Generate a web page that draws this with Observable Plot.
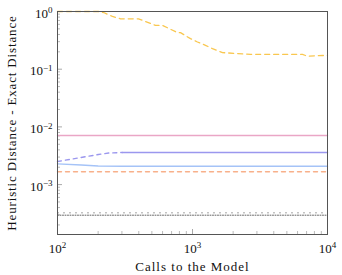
<!DOCTYPE html>
<html><head><meta charset="utf-8">
<script src="https://cdn.jsdelivr.net/npm/d3@7"></script>
<script src="https://cdn.jsdelivr.net/npm/@observablehq/plot@0.6"></script>
<style>
body{margin:0;background:#fff}
svg text{font-family:"Liberation Serif","DejaVu Serif",serif !important}
</style>
</head><body><div id="chart"></div>
<script>
// Data
const goldX = [100, 201, 220, 255, 293, 398, 532, 600, 774, 815, 966, 1089, 1248, 1406, 1668, 2692, 6531, 7113, 10000];
const goldY = [1, 1, 0.96, 0.82, 0.748, 0.748, 0.574, 0.574, 0.43, 0.43, 0.338, 0.296, 0.259, 0.227, 0.194, 0.181, 0.180, 0.168, 0.174];
const pinkX = [100, 10000];
const pinkY = [0.0071, 0.0071];
const purpleDashX = [100, 153, 201, 239, 303];
const purpleDashY = [0.00251, 0.00298, 0.00332, 0.00352, 0.0036];
const purpleX = [303, 10000];
const purpleY = [0.0036, 0.0036];
const blueX = [100, 150, 200, 300, 10000];
const blueY = [0.00229, 0.00218, 0.0021, 0.00208, 0.00208];
const salmonX = [100, 10000];
const salmonY = [0.00167, 0.00167];
const dotDarkX = [100, 10000];
const dotDarkY = [0.000295, 0.000295];
const dotLightX = [100, 10000];
const dotLightY = [0.000324, 0.000324];

const xMajor = [100, 1000, 10000];
const xMinor = [200, 300, 400, 500, 600, 700, 800, 900, 2000, 3000, 4000, 5000, 6000, 7000, 8000, 9000];
const yMajor = [1e-3, 1e-2, 1e-1, 1];
const yMinor = [2e-4,3e-4,4e-4,5e-4,6e-4,7e-4,8e-4,9e-4,
                2e-3,3e-3,4e-3,5e-3,6e-3,7e-3,8e-3,9e-3,
                2e-2,3e-2,4e-2,5e-2,6e-2,7e-2,8e-2,9e-2,
                0.2,0.3,0.4,0.5,0.6,0.7,0.8,0.9];
const xLabel = "Calls to the Model";
const yLabel = "Heuristic Distance - Exact Distance";

const rows = (xs, ys) => xs.map((x, i) => ({x, y: ys[i]}));
const fmt = d => "10^" + Math.round(Math.log10(d));

const W = 342, H = 275, ML = 57, MR = 15, MT = 11, MB = 41;
const FW = W - ML - MR, FH = H - MT - MB;
const FONT = "Liberation Serif";

const chart = Plot.plot({
  width: W, height: H,
  marginLeft: ML, marginRight: MR, marginTop: MT, marginBottom: MB,
  x: {type: "log", domain: [100, 10000]},
  y: {type: "log", domain: [1.365e-4, 1]},
  style: {fontFamily: FONT, fontSize: "12px", background: "#fff", color: "#111"},
  marks: [
    // ticks (inward)
    Plot.ruleY(yMinor, {y: d => d, stroke: "#bbb", strokeWidth: 1, insetRight: FW - 3}),
    Plot.ruleY(yMajor, {y: d => d, stroke: "#aaa", strokeWidth: 1, insetRight: FW - 5}),
    Plot.ruleX(xMinor, {x: d => d, stroke: "#bbb", strokeWidth: 1, insetTop: FH - 3}),
    Plot.ruleX(xMajor, {x: d => d, stroke: "#aaa", strokeWidth: 1, insetTop: FH - 5}),
    // series
    Plot.line(rows(dotLightX, dotLightY), {x: "x", y: "y", stroke: "#9a9a9a", strokeWidth: 1, strokeDasharray: "1,5"}),
    Plot.line(rows(dotDarkX, dotDarkY), {x: "x", y: "y", stroke: "#666", strokeWidth: 1, strokeDasharray: "1,1.5"}),
    Plot.line(rows(salmonX, salmonY), {x: "x", y: "y", stroke: "#f8b08a", strokeWidth: 1.4, strokeDasharray: "4,4"}),
    Plot.line(rows(blueX, blueY), {x: "x", y: "y", stroke: "#a5c3f7", strokeWidth: 1.4}),
    Plot.line(rows(purpleDashX, purpleDashY), {x: "x", y: "y", stroke: "#9b97ee", strokeWidth: 1.4, strokeDasharray: "4,4"}),
    Plot.line(rows(purpleX, purpleY), {x: "x", y: "y", stroke: "#9b97ee", strokeWidth: 1.4}),
    Plot.line(rows(pinkX, pinkY), {x: "x", y: "y", stroke: "#eaa6c6", strokeWidth: 1.4}),
    Plot.line(rows(goldX, goldY), {x: "x", y: "y", stroke: "#f9c74f", strokeWidth: 1.3, strokeDasharray: "5,4"}),
    Plot.frame({stroke: "#555", strokeWidth: 1}),
    // tick labels
    Plot.axisY({ticks: yMajor, anchor: "left", tickSize: 0, tickPadding: 5, tickFormat: fmt, fontSize: 13, fontFamily: FONT, label: null, dy: 2, fill: "#111"}),
    Plot.axisX({ticks: xMajor, anchor: "bottom", tickSize: 0, tickPadding: 9, tickFormat: fmt, fontSize: 13, fontFamily: FONT, label: null, fill: "#111"}),
    // axis titles
    Plot.text([xLabel], {text: d => d, frameAnchor: "bottom", dy: 32, fontSize: 13, fontFamily: FONT, textAnchor: "middle", lineAnchor: "middle", fill: "#111"}),
    Plot.text([yLabel], {text: d => d, frameAnchor: "left", dx: -46, rotate: -90, fontSize: 13, fontFamily: FONT, textAnchor: "middle", lineAnchor: "middle", fill: "#111"})
  ]
});

// superscript exponents and letter spacing
d3.select(chart).selectAll("text").each(function() {
  const t = d3.select(this);
  const s = this.textContent;
  const m = s.match(/^10\^(-?\d+)$/);
  if (m) {
    t.text(null);
    t.append("tspan").text("10");
    t.append("tspan").attr("dy", "-4.5").attr("font-size", "9px").text(m[1].replace("-", "\u2212"));
  } else if (s === xLabel) {
    t.style("letter-spacing", "1px");
  } else if (s === yLabel) {
    t.style("letter-spacing", "0.85px");
  }
});

document.getElementById("chart").appendChild(chart);
</script>
</body></html>
